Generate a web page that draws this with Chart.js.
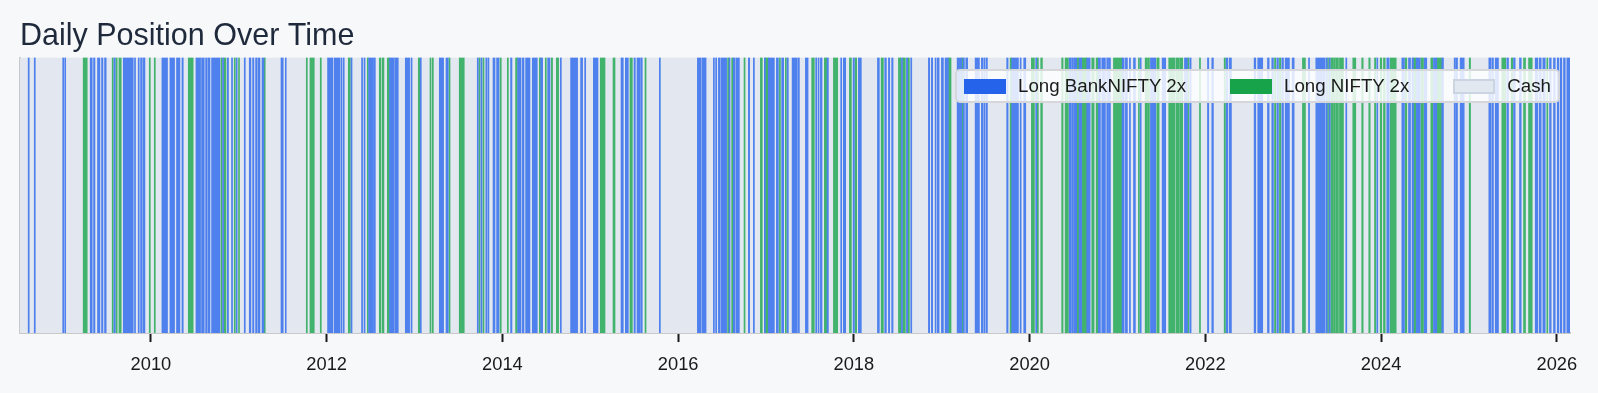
<!DOCTYPE html>
<html>
<head>
<meta charset="utf-8">
<title>Daily Position Over Time</title>
<script src="https://cdn.jsdelivr.net/npm/chart.js@4.4.1/dist/chart.umd.min.js"></script>
<style>
  html, body { margin: 0; padding: 0; background: #f7f8fa; }
  #wrap { position: relative; width: 1598px; height: 393px; }
  #legend {
    position: absolute; right: 38px; top: 69px; height: 34px;
    box-sizing: border-box; display: flex; align-items: center; padding: 0 7px;
    background: rgba(255, 255, 255, 0.82); border: 2px solid #d5d7db; border-radius: 5px;
    font: 18.7px "Liberation Sans", Arial, sans-serif; color: #1a1a1a;
  }
  .item { display: flex; align-items: center; white-space: nowrap; }
  .item + .item { margin-left: 44px; }
  .swatch { width: 42px; height: 15px; box-sizing: border-box; margin-right: 12px; }
</style>
</head>
<body>
<div id="wrap">
  <canvas id="myChart" width="1598" height="393"></canvas>
  <div id="legend"></div>
</div>
<script>
'use strict';

//--------------------DATA (decimal years, start/end of each holding period)
let startYear = 2008.51;
let endYear = 2026.15;
let yearTicks = [2010, 2012, 2014, 2016, 2018, 2020, 2022, 2024, 2026];

let seriesNames = ['Long BankNIFTY 2x', 'Long NIFTY 2x', 'Cash'];

let bankNiftyPeriods = [
  [2008.603, 2008.615], [2008.672, 2008.684], [2008.996, 2009.007], [2009.019, 2009.030],
  [2009.309, 2009.332], [2009.347, 2009.363], [2009.392, 2009.419], [2009.438, 2009.454], [2009.472, 2009.491],
  [2009.579, 2009.594], [2009.685, 2009.799], [2009.813, 2009.825], [2009.855, 2009.867], [2009.882, 2009.901],
  [2009.912, 2009.932],
  [2010.125, 2010.189], [2010.216, 2010.269], [2010.291, 2010.330], [2010.353, 2010.368], [2010.512, 2010.565],
  [2010.576, 2010.607], [2010.622, 2010.641], [2010.652, 2010.672], [2010.690, 2010.785], [2010.815, 2010.827],
  [2010.869, 2010.883], [2010.917, 2010.929], [2010.971, 2010.982],
  [2011.062, 2011.074], [2011.119, 2011.138], [2011.157, 2011.172], [2011.191, 2011.207], [2011.218, 2011.241],
  [2011.264, 2011.286], [2011.480, 2011.506], [2011.529, 2011.540],
  [2012.010, 2012.072], [2012.087, 2012.151], [2012.163, 2012.175], [2012.189, 2012.200], [2012.277, 2012.289],
  [2012.397, 2012.409], [2012.425, 2012.437], [2012.477, 2012.534], [2012.542, 2012.554], [2012.716, 2012.769],
  [2012.777, 2012.815], [2012.895, 2012.944], [2012.960, 2012.972],
  [2013.065, 2013.077], [2013.282, 2013.331], [2013.358, 2013.384], [2013.714, 2013.726], [2013.756, 2013.768],
  [2013.811, 2013.823], [2013.834, 2013.847], [2013.893, 2013.916], [2013.934, 2013.961],
  [2014.093, 2014.109], [2014.173, 2014.212], [2014.227, 2014.246], [2014.264, 2014.314], [2014.340, 2014.397],
  [2014.435, 2014.458], [2014.515, 2014.542], [2014.659, 2014.671], [2014.776, 2014.856], [2014.890, 2014.913],
  [2014.936, 2014.948],
  [2015.035, 2015.088], [2015.350, 2015.376], [2015.399, 2015.433], [2015.498, 2015.513], [2015.532, 2015.570],
  [2015.578, 2015.592], [2015.786, 2015.798],
  [2016.219, 2016.261], [2016.272, 2016.318], [2016.401, 2016.413], [2016.427, 2016.439], [2016.458, 2016.477],
  [2016.488, 2016.552], [2016.579, 2016.591], [2016.628, 2016.648], [2016.659, 2016.697], [2016.799, 2016.814],
  [2016.856, 2016.868], [2016.981, 2016.993],
  [2017.027, 2017.095], [2017.118, 2017.141], [2017.178, 2017.201], [2017.240, 2017.254], [2017.297, 2017.357],
  [2017.368, 2017.380], [2017.448, 2017.479], [2017.565, 2017.577], [2017.592, 2017.604], [2017.619, 2017.638],
  [2017.695, 2017.710], [2017.850, 2017.862], [2017.880, 2017.907], [2017.991, 2018.006],
  [2018.051, 2018.085], [2018.268, 2018.290], [2018.351, 2018.370], [2018.393, 2018.408], [2018.430, 2018.446],
  [2018.541, 2018.553], [2018.598, 2018.612], [2018.647, 2018.659], [2018.848, 2018.863], [2018.882, 2018.897],
  [2018.924, 2018.936], [2018.950, 2018.970], [2018.996, 2019.019],
  [2019.038, 2019.056], [2019.064, 2019.076], [2019.175, 2019.227], [2019.243, 2019.258], [2019.273, 2019.295],
  [2019.380, 2019.429], [2019.451, 2019.466], [2019.478, 2019.493], [2019.505, 2019.520], [2019.739, 2019.755],
  [2019.796, 2019.873], [2019.892, 2019.904], [2019.933, 2019.956],
  [2020.069, 2020.081], [2020.450, 2020.472], [2020.479, 2020.499], [2020.507, 2020.536], [2020.563, 2020.593],
  [2020.650, 2020.689], [2020.783, 2020.806], [2020.821, 2020.863], [2020.878, 2020.890], [2020.897, 2020.920],
  [2021.053, 2021.076], [2021.090, 2021.113], [2021.136, 2021.148], [2021.182, 2021.204], [2021.258, 2021.270],
  [2021.375, 2021.435], [2021.508, 2021.549], [2021.762, 2021.796], [2021.822, 2021.838],
  [2022.024, 2022.039], [2022.073, 2022.092], [2022.237, 2022.255], [2022.271, 2022.297], [2022.555, 2022.574],
  [2022.596, 2022.653], [2022.707, 2022.726], [2022.756, 2022.775], [2022.813, 2022.832], [2022.870, 2022.889],
  [2022.908, 2022.957], [2022.988, 2023.011],
  [2023.174, 2023.186], [2023.257, 2023.364], [2023.375, 2023.387], [2023.409, 2023.421], [2023.598, 2023.610],
  [2023.951, 2023.963],
  [2024.065, 2024.092], [2024.236, 2024.266], [2024.312, 2024.335], [2024.352, 2024.369], [2024.400, 2024.445],
  [2024.491, 2024.520], [2024.596, 2024.634], [2024.691, 2024.710], [2024.832, 2024.847], [2024.855, 2024.870],
  [2024.900, 2024.946],
  [2025.226, 2025.249], [2025.260, 2025.279], [2025.299, 2025.336], [2025.431, 2025.450], [2025.507, 2025.526],
  [2025.575, 2025.595], [2025.754, 2025.784], [2025.800, 2025.822], [2025.841, 2025.868], [2025.917, 2025.936],
  [2025.962, 2025.982],
  [2026.005, 2026.023], [2026.039, 2026.057], [2026.076, 2026.096], [2026.114, 2026.150]
];

let niftyPeriods = [
  [2009.229, 2009.275], [2009.559, 2009.571], [2009.602, 2009.616], [2009.636, 2009.662], [2009.981, 2009.993],
  [2010.038, 2010.050], [2010.425, 2010.481], [2010.797, 2010.809], [2010.831, 2010.854], [2010.948, 2010.960],
  [2010.997, 2011.008],
  [2011.290, 2011.301], [2011.768, 2011.780], [2011.810, 2011.859], [2011.927, 2011.939],
  [2012.246, 2012.269], [2012.462, 2012.474], [2012.599, 2012.618], [2012.633, 2012.652], [2012.690, 2012.716],
  [2013.043, 2013.065], [2013.176, 2013.188], [2013.202, 2013.214], [2013.392, 2013.404], [2013.509, 2013.566],
  [2013.734, 2013.746], [2013.779, 2013.791], [2013.973, 2013.987],
  [2014.056, 2014.068], [2014.150, 2014.170], [2014.420, 2014.435], [2014.488, 2014.500], [2014.557, 2014.571],
  [2014.614, 2014.640],
  [2015.114, 2015.168], [2015.259, 2015.282], [2015.452, 2015.479], [2015.623, 2015.635],
  [2016.563, 2016.579], [2016.609, 2016.628], [2016.750, 2016.762], [2016.936, 2016.958], [2016.993, 2017.027],
  [2017.152, 2017.164], [2017.220, 2017.232], [2017.520, 2017.550], [2017.664, 2017.695], [2017.767, 2017.816],
  [2017.949, 2017.972],
  [2018.014, 2018.032], [2018.310, 2018.336], [2018.507, 2018.533], [2018.555, 2018.586], [2018.617, 2018.632],
  [2019.076, 2019.106], [2019.227, 2019.243], [2019.778, 2019.796],
  [2020.020, 2020.055], [2020.085, 2020.100], [2020.126, 2020.146], [2020.365, 2020.381], [2020.404, 2020.442],
  [2020.536, 2020.563], [2020.593, 2020.650], [2020.707, 2020.734], [2020.757, 2020.783], [2020.954, 2021.048],
  [2021.238, 2021.250], [2021.315, 2021.333], [2021.341, 2021.364], [2021.447, 2021.474], [2021.583, 2021.656],
  [2021.668, 2021.705], [2021.713, 2021.743], [2021.796, 2021.811], [2021.933, 2021.945],
  [2022.214, 2022.229], [2022.787, 2022.801], [2022.843, 2022.858],
  [2023.105, 2023.139], [2023.390, 2023.402], [2023.427, 2023.450], [2023.458, 2023.478], [2023.484, 2023.515],
  [2023.526, 2023.572], [2023.678, 2023.712], [2023.780, 2023.796], [2023.860, 2023.876], [2023.925, 2023.940],
  [2023.990, 2024.008],
  [2024.027, 2024.047], [2024.104, 2024.172], [2024.274, 2024.293], [2024.369, 2024.400], [2024.452, 2024.483],
  [2024.566, 2024.588], [2024.634, 2024.691],
  [2025.003, 2025.018], [2025.374, 2025.419], [2025.481, 2025.499], [2025.621, 2025.644], [2025.678, 2025.720],
  [2025.886, 2025.898]
];

//--------------------STYLE
let fontFamily = '"Liberation Sans", Arial, Helvetica, sans-serif';
let barColors = ['rgb(79, 129, 238)', 'rgb(66, 179, 108)', 'rgb(227, 232, 240)'];
let legendColors = ['#2563eb', '#16a34a', '#e2e8f0'];

//--------------------HELPER FUNCTIONS

// cash = every gap between the invested periods
function cashPeriods() {
  let invested = bankNiftyPeriods.concat(niftyPeriods).slice().sort((a, b) => a[0] - b[0]);
  let gaps = [];
  let cursor = startYear;
  for (let i = 0; i < invested.length; i++) {
    if (invested[i][0] > cursor) {
      gaps.push([cursor, invested[i][0]]);
    }
    cursor = Math.max(cursor, invested[i][1]);
  }
  if (cursor < endYear) {
    gaps.push([cursor, endYear]);
  }
  return gaps;
}

function toPoints(periods) {
  return periods.map(p => ({ x: p, y: 'position' }));
}

function makeDataset(i, periods) {
  return {
    label: seriesNames[i],
    data: toPoints(periods),
    backgroundColor: barColors[i],
    borderWidth: 0,
    grouped: false,
    barPercentage: 1,
    categoryPercentage: 1,
  };
}

function renderLegend() {
  let legendElem = document.getElementById('legend');
  for (let i = 0; i < seriesNames.length; i++) {
    let item = document.createElement('div');
    item.className = 'item';
    let swatch = document.createElement('span');
    swatch.className = 'swatch';
    swatch.style.background = legendColors[i];
    if (seriesNames[i] === 'Cash') {
      swatch.style.border = '2px solid #cbd5e1';
    }
    let text = document.createElement('span');
    text.textContent = seriesNames[i];
    item.appendChild(swatch);
    item.appendChild(text);
    legendElem.appendChild(item);
  }
}

//--------------------CHART
let canvasElem = document.getElementById('myChart');

function renderChart() {
  let myObj = {
    type: 'bar',
    data: {
      labels: ['position'],
      datasets: [
        makeDataset(0, bankNiftyPeriods),
        makeDataset(1, niftyPeriods),
        makeDataset(2, cashPeriods()),
      ],
    },
    options: {
      indexAxis: 'y',
      responsive: false,
      animation: false,
      devicePixelRatio: 1,
      layout: {
        padding: { left: 20, right: 28, top: 0, bottom: 5 },
      },
      plugins: {
        legend: { display: false },
        tooltip: { enabled: false },
        title: {
          display: true,
          text: 'Daily Position Over Time',
          align: 'start',
          color: '#1e293b',
          font: { family: fontFamily, size: 30.5, weight: 'normal' },
          padding: { top: 18, bottom: 3 },
        },
      },
      scales: {
        x: {
          type: 'linear',
          min: startYear,
          max: endYear,
          z: 1,
          afterBuildTicks: (axis) => {
            axis.ticks = yearTicks.map(v => ({ value: v }));
          },
          grid: {
            drawOnChartArea: false,
            drawTicks: true,
            tickLength: 9,
            tickWidth: 2,
            tickColor: '#1a1a1a',
          },
          border: { display: true, color: '#c9c9c9', width: 2 },
          ticks: {
            autoSkip: false,
            maxRotation: 0,
            color: '#1a1a1a',
            padding: 12,
            font: { family: fontFamily, size: 18.3 },
            callback: (v) => String(v),
          },
        },
        y: {
          type: 'category',
          z: 1,
          ticks: { display: false },
          grid: { display: false, drawTicks: false },
          border: { display: true, color: '#c9c9c9', width: 2 },
        },
      },
    },
  };
  new Chart(canvasElem, myObj);
}

renderLegend();
renderChart();
</script>
</body>
</html>
